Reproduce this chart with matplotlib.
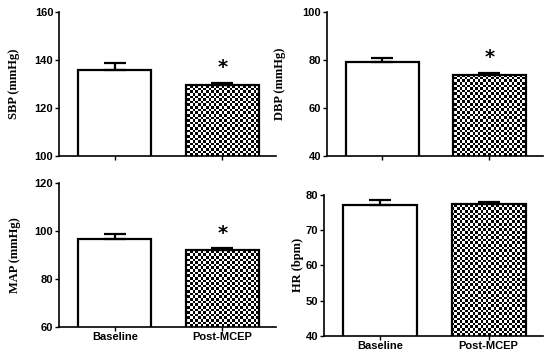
import matplotlib
matplotlib.use("Agg")
import matplotlib.pyplot as plt
import numpy as np

groups = ["Baseline", "Post-MCEP"]

sbp = [135.7, 129.5]
sbp_err = [3.0, 1.0]
dbp = [79.2, 73.8]
dbp_err = [1.7, 0.8]
mapr = [96.7, 91.9]
map_err = [1.9, 0.8]
hr = [77.1, 77.5]
hr_err = [1.4, 0.4]

panels = [
    # values, errors, ylabel, ylim, yticks, star, axes rect, label x
    (sbp, sbp_err, "SBP (mmHg)", (100, 160), [100, 120, 140, 160], True,
     [0.107, 0.564, 0.395, 0.402], -0.18),
    (dbp, dbp_err, "DBP (mmHg)", (40, 100), [40, 60, 80, 100], True,
     [0.594, 0.564, 0.393, 0.402], -0.19),
    (mapr, map_err, "MAP (mmHg)", (60, 120), [60, 80, 100, 120], True,
     [0.107, 0.087, 0.395, 0.402], -0.175),
    (hr, hr_err, "HR (bpm)", (40, 80), [40, 50, 60, 70, 80], False,
     [0.589, 0.062, 0.398, 0.394], -0.09),
]

tick_font = {"family": "Liberation Sans", "weight": "bold", "size": 8}
label_font = {"family": "Liberation Serif", "weight": "bold", "size": 9}

fig = plt.figure(figsize=(5.5, 3.58), dpi=100)

for i, (vals, errs, ylab, ylim, yticks, star, rect, lx) in enumerate(panels):
    ax = fig.add_axes(rect)
    x = np.arange(len(groups))
    bars = ax.bar(x, vals, width=0.68, color="white", edgecolor="black",
                  linewidth=1.6, zorder=2)
    ax.errorbar(x, vals, yerr=[np.zeros(len(errs)), errs], fmt="none",
                ecolor="black", elinewidth=1.6, capsize=8, capthick=1.6, zorder=3)
    ax.set_xlim(-0.52, 1.5)
    ax.set_ylim(*ylim)
    ax.set_yticks(yticks)

    # checkerboard fill for the second bar
    w_px = rect[2] * 550
    h_px = rect[3] * 358
    cell = 2.6
    nx, ny = int(w_px / cell), int(h_px / cell)
    board = (np.add.outer(np.arange(ny), np.arange(nx)) % 2).astype(float)
    im = ax.imshow(board, cmap="gray", extent=[*ax.get_xlim(), *ax.get_ylim()],
                   aspect="auto", interpolation="nearest", zorder=2.5,
                   vmin=0, vmax=1)
    im.set_clip_path(bars[1])
    bars[1].set_zorder(2.6)
    bars[1].set_facecolor("none")

    if star:
        ax.text(1, vals[1] + errs[1] + (ylim[1] - ylim[0]) * 0.04, "*",
                ha="center", va="bottom", fontsize=14, fontweight="bold")

    for s in ["top", "right"]:
        ax.spines[s].set_visible(False)
    for s in ["left", "bottom"]:
        ax.spines[s].set_linewidth(1.2)
    ax.tick_params(axis="both", length=3, width=1, direction="out", pad=1)
    ax.set_xticks(x)
    if i >= 2:
        ax.set_xticklabels(groups, fontdict=tick_font)
    else:
        ax.set_xticklabels([])
    for t in ax.get_yticklabels():
        t.set_fontfamily("Liberation Sans")
        t.set_fontweight("bold")
        t.set_fontsize(8)
    ax.set_ylabel(ylab, fontdict=label_font)
    ax.yaxis.set_label_coords(lx, 0.5)

fig.savefig("out.png", dpi=100)
